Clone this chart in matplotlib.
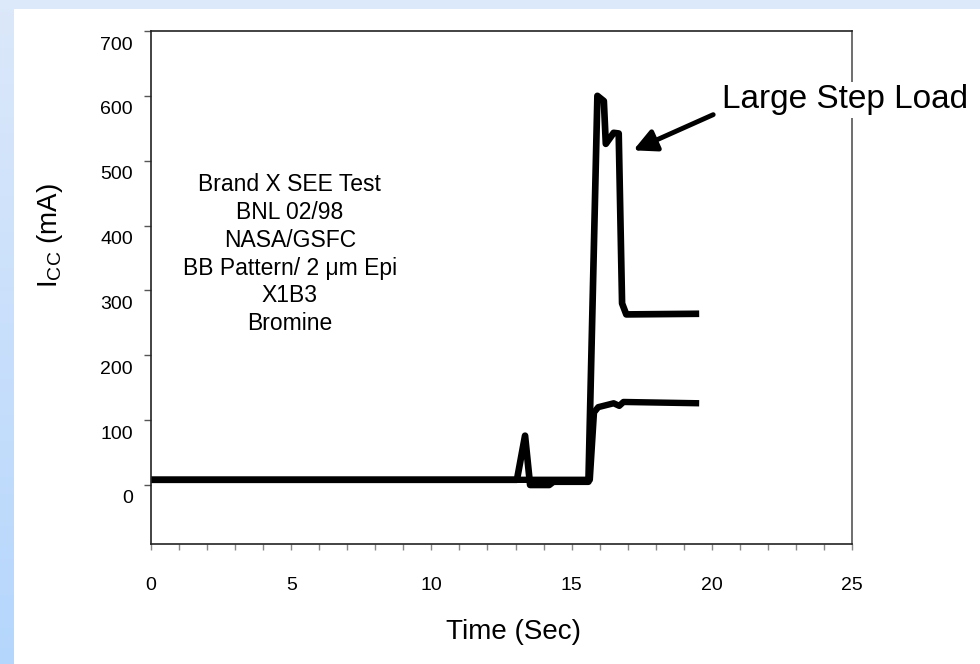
import numpy as np
import matplotlib
matplotlib.use('Agg')
import matplotlib.pyplot as plt
import matplotlib.transforms as mtransforms
from matplotlib.patches import Rectangle

plt.rcParams['font.family'] = ['Liberation Sans', 'DejaVu Sans']
plt.rcParams['mathtext.fontset'] = 'custom'
plt.rcParams['mathtext.rm'] = 'Liberation Sans'
plt.rcParams['mathtext.it'] = 'Liberation Sans'

# upper trace (large step load)
t_upper = [0, 13.05, 13.34, 13.52, 14.2, 14.35, 15.6, 15.92, 16.15, 16.22, 16.5, 16.68, 16.8, 16.95, 19.55]
i_upper = [8, 8, 76, 0, 0, 5, 5, 600, 592, 526, 543, 542, 280, 263, 264]
# lower trace
t_lower = [0, 15.65, 15.8, 15.95, 16.5, 16.7, 16.85, 19.55]
i_lower = [8, 8, 112, 120, 126, 122, 128, 126]

x_ticks = [0, 5, 10, 15, 20, 25]
y_ticks = [0, 100, 200, 300, 400, 500, 600, 700]
info = 'Brand X SEE Test\nBNL 02/98\nNASA/GSFC\nBB Pattern/ 2 \u03bcm Epi\nX1B3\nBromine'

W, H = 980, 664
fig = plt.figure(figsize=(W / 100, H / 100), dpi=100)
fig.patch.set_facecolor('white')

# slide-ish blue frame on top and left
fig.patches.append(Rectangle((0, 1 - 9 / H), 1, 9 / H, transform=fig.transFigure,
                             facecolor='#dce9fb', edgecolor='none', zorder=0))
bg = fig.add_axes([0, 0, 13 / W, 1 - 9 / H], zorder=0)
c_top = np.array([0.86, 0.91, 0.98])
c_bot = np.array([0.71, 0.84, 0.99])
frac = np.linspace(0, 1, 200)[:, None]
grad = (c_top * (1 - frac) + c_bot * frac)[:, None, :]
bg.imshow(grad, aspect='auto', extent=[0, 1, 0, 1])
bg.axis('off')

ax = fig.add_axes([151 / W, (H - 544) / H, 701 / W, 513 / H], zorder=1)
ax.plot(t_lower, i_lower, color='black', lw=4.6, solid_joinstyle='round', solid_capstyle='butt')
ax.plot(t_upper, i_upper, color='black', lw=4.8, solid_joinstyle='round', solid_capstyle='butt')

ax.set_xlim(0, 25)
ax.set_ylim(-91, 700)
ax.set_xticks(x_ticks)
ax.set_xticks(np.arange(0, 26, 1), minor=True)
ax.set_yticks(y_ticks)
ax.tick_params(axis='x', which='both', direction='out', length=4.5, width=1, color='#888888',
               labelsize=14, pad=19)
ax.tick_params(axis='y', direction='out', length=5, width=1, color='#555555', labelsize=14, pad=8)
for s in ax.spines.values():
    s.set_linewidth(1.2)
    s.set_color('#222222')
ax.spines['right'].set_color('#555555')

# y tick labels sit a bit under their tick, like the original
shift = mtransforms.ScaledTranslation(0, -12 / 100, fig.dpi_scale_trans)
for lab in ax.get_yticklabels():
    lab.set_transform(lab.get_transform() + shift)

ax.text(4.95, 356, info, ha='center', va='center', fontsize=16.5, linespacing=1.27)

ax.annotate('', xy=(17.2, 516), xytext=(20.05, 571),
            arrowprops=dict(arrowstyle='-|>', lw=3.5, color='black', mutation_scale=34,
                            shrinkA=0, shrinkB=0))
ax.text(20.35, 594, 'Large Step Load', fontsize=24, ha='left', va='center', clip_on=False,
        bbox=dict(facecolor='white', edgecolor='none', pad=2), zorder=5)

fig.text(514 / W, 1 - 632 / H, 'Time (Sec)', fontsize=20, ha='center', va='center')
fig.text(50 / W, 1 - 236 / H, 'I$_{\\mathrm{CC}}$ (mA)', fontsize=20, ha='center', va='center',
         rotation=90)

fig.savefig('out.png', dpi=100)
